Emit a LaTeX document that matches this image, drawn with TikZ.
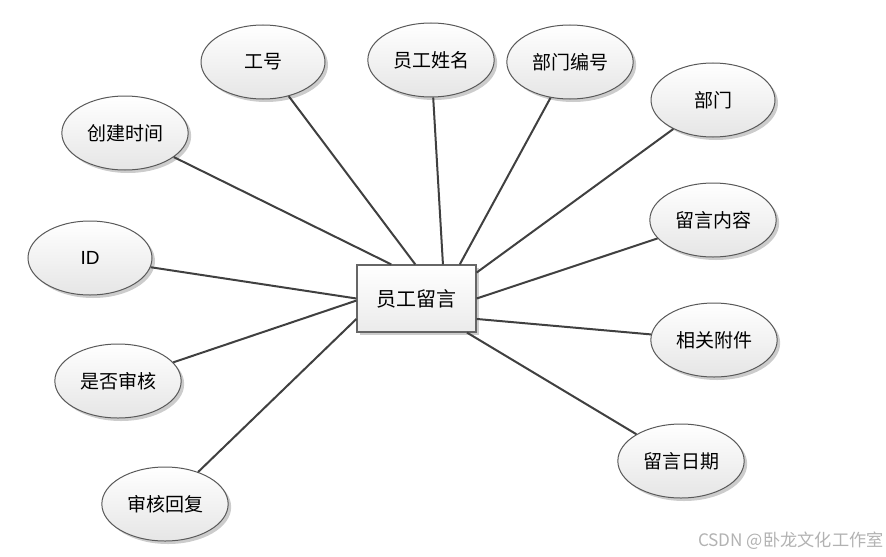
\documentclass[tikz,border=0pt]{standalone}
\usepackage{fontspec}
\setmainfont{Noto Sans CJK SC}
\usetikzlibrary{shapes.geometric,shadows,calc}

\tikzset{
  attr/.style={ellipse,draw=black!65,line width=0.5pt,minimum width=62pt,minimum height=37pt,
    top color=white,bottom color=black!10,
    drop shadow={shadow xshift=1.5pt,shadow yshift=-1.5pt,opacity=0.2,fill=black},
    font=\fontsize{9.5}{11}\selectfont},
  entity/.style={rectangle,draw=black!60,line width=0.6pt,minimum width=59.5pt,minimum height=33.5pt,
    top color=white,bottom color=black!8,
    drop shadow={shadow xshift=1.5pt,shadow yshift=-1.5pt,opacity=0.2,fill=black},
    font=\fontsize{10}{12}\selectfont},
  link/.style={draw=black!75,line width=1pt}
}

\begin{document}
\begin{tikzpicture}[x=0.5pt,y=-0.5pt]
\useasboundingbox (0,0) rectangle (886,556);
% central entity
\node [entity] (msg) at (416.5,298.5) {员工留言};
% attributes
\node [attr] (gh) at (263,62) {工号};
\node [attr] (xm) at (431,60) {员工姓名};
\node [attr] (bmbh) at (570,62) {部门编号};
\node [attr] (bm) at (713,100) {部门};
\node [attr] (cjsj) at (125,133) {创建时间};
\node [attr] (id) at (90,258) {\fontspec{Liberation Sans}ID};
\node [attr] (lynr) at (713,220) {留言内容};
\node [attr] (xgfj) at (714,340) {相关附件};
\node [attr] (sfsh) at (118,381) {是否审核};
\node [attr] (lyrq) at (681,461) {留言日期};
\node [attr] (shhf) at (165,504) {审核回复};
% end points on the entity border
\coordinate (t1) at ($(msg.north west)!0.29!(msg.north east)$);
\coordinate (t2) at ($(msg.north west)!0.49!(msg.north east)$);
\coordinate (t3) at ($(msg.north west)!0.72!(msg.north east)$);
\coordinate (t4) at ($(msg.north west)!0.86!(msg.north east)$);
\coordinate (r1) at ($(msg.north east)!0.12!(msg.south east)$);
\coordinate (r2) at ($(msg.north east)!0.50!(msg.south east)$);
\coordinate (r3) at ($(msg.north east)!0.80!(msg.south east)$);
\coordinate (b1) at ($(msg.south west)!0.92!(msg.south east)$);
\coordinate (l1) at ($(msg.north west)!0.50!(msg.south west)$);
\coordinate (l2) at ($(msg.north west)!0.53!(msg.south west)$);
\coordinate (l3) at ($(msg.north west)!0.80!(msg.south west)$);
% connectors
\foreach \a/\p in {cjsj/t1,gh/t2,xm/t3,bmbh/t4,bm/r1,lynr/r2,xgfj/r3,lyrq/b1,id/l1,sfsh/l2,shhf/l3}
  \draw [link] (\a) -- (\p);
% watermark
\node [anchor=east,text=black!30,font=\fontsize{8.6}{10}\selectfont,inner sep=0pt] (wm) at (884,541) {CSDN @卧龙文化工作室};
\end{tikzpicture}
\end{document}
